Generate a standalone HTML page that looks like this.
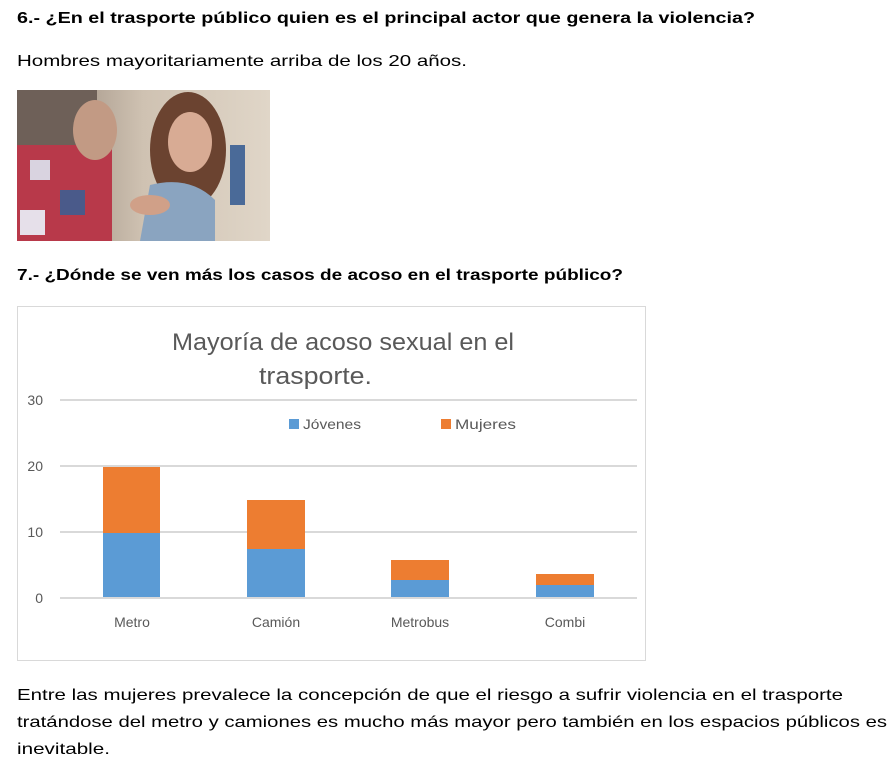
<!DOCTYPE html>
<html><head><meta charset="utf-8"><style>
html,body{margin:0;padding:0;background:#fff;}
svg{display:block;}
text{font-family:"Liberation Sans",sans-serif;}
</style></head><body>
<svg width="895" height="768" viewBox="0 0 895 768" xmlns="http://www.w3.org/2000/svg">
<text x="17" y="23" font-size="16" font-weight="bold" fill="#000" textLength="738" lengthAdjust="spacingAndGlyphs">6.- ¿En el trasporte público quien es el principal actor  que genera la violencia?</text>
<text x="17" y="66" font-size="16" fill="#000" textLength="450" lengthAdjust="spacingAndGlyphs">Hombres mayoritariamente arriba de los 20 años.</text>
<!-- photo approximation -->
<defs>
<linearGradient id="bg" x1="0" x2="1"><stop offset="0" stop-color="#8a7a6e"/><stop offset="0.5" stop-color="#cfc2b2"/><stop offset="1" stop-color="#e0d6c8"/></linearGradient>
</defs>
<rect x="17" y="90" width="253" height="151" fill="url(#bg)"/>
<rect x="17" y="90" width="80" height="60" fill="#6e6058"/>
<rect x="17" y="145" width="95" height="96" fill="#b8394a"/>
<rect x="30" y="160" width="20" height="20" fill="#d9d3e0"/>
<rect x="60" y="190" width="25" height="25" fill="#4a5a8a"/>
<rect x="20" y="210" width="25" height="25" fill="#e6e0ea"/>
<ellipse cx="95" cy="130" rx="22" ry="30" fill="#c29a84"/>
<ellipse cx="188" cy="150" rx="38" ry="58" fill="#6b4330"/>
<ellipse cx="190" cy="142" rx="22" ry="30" fill="#d8ab94"/>
<path d="M140 241 L150 185 Q190 175 215 200 L215 241 Z" fill="#8aa4c0"/>
<ellipse cx="150" cy="205" rx="20" ry="10" fill="#d0a088"/>
<rect x="230" y="145" width="15" height="60" fill="#4a6a98"/>
<text x="17" y="280" font-size="16" font-weight="bold" fill="#000" textLength="606" lengthAdjust="spacingAndGlyphs">7.- ¿Dónde se ven más los casos de acoso en el trasporte público?</text>
<!-- chart -->
<rect x="17.5" y="306.5" width="628" height="354" fill="#fff" stroke="#d9d9d9"/>
<text x="172" y="350" font-size="24" fill="#595959" textLength="342" lengthAdjust="spacingAndGlyphs">Mayoría de acoso sexual en el</text>
<text x="259" y="384" font-size="24" fill="#595959" textLength="113" lengthAdjust="spacingAndGlyphs">trasporte.</text>
<g stroke="#d9d9d9" stroke-width="2">
<line x1="60" y1="400" x2="637" y2="400"/>
<line x1="60" y1="466" x2="637" y2="466"/>
<line x1="60" y1="532" x2="637" y2="532"/>
<line x1="60" y1="598" x2="637" y2="598"/>
</g>
<g font-size="14" fill="#595959" text-anchor="end">
<text x="43" y="405">30</text><text x="43" y="471">20</text><text x="43" y="537">10</text><text x="43" y="603">0</text>
</g>
<g>
<rect x="103" y="467" width="57" height="66" fill="#ed7d31"/><rect x="103" y="533" width="57" height="64" fill="#5b9bd5"/>
<rect x="247" y="500" width="58" height="49" fill="#ed7d31"/><rect x="247" y="549" width="58" height="48" fill="#5b9bd5"/>
<rect x="391" y="560" width="58" height="20" fill="#ed7d31"/><rect x="391" y="580" width="58" height="17" fill="#5b9bd5"/>
<rect x="536" y="574" width="58" height="11" fill="#ed7d31"/><rect x="536" y="585" width="58" height="12" fill="#5b9bd5"/>
</g>
<rect x="289" y="419" width="10" height="10" fill="#5b9bd5"/>
<text x="303" y="429" font-size="14" fill="#595959" textLength="58" lengthAdjust="spacingAndGlyphs">Jóvenes</text>
<rect x="441" y="419" width="10" height="10" fill="#ed7d31"/>
<text x="455" y="429" font-size="14" fill="#595959" textLength="61" lengthAdjust="spacingAndGlyphs">Mujeres</text>
<g font-size="14" fill="#595959" text-anchor="middle">
<text x="132" y="627">Metro</text><text x="276" y="627">Camión</text><text x="420" y="627">Metrobus</text><text x="565" y="627">Combi</text>
</g>
<text x="17" y="700" font-size="16" fill="#000" textLength="826" lengthAdjust="spacingAndGlyphs">Entre las  mujeres prevalece la concepción de que el riesgo a sufrir violencia en el trasporte</text>
<text x="17" y="727" font-size="16" fill="#000" textLength="870" lengthAdjust="spacingAndGlyphs">tratándose del metro y camiones es mucho más mayor pero también en los espacios públicos es</text>
<text x="17" y="754" font-size="16" fill="#000" textLength="93" lengthAdjust="spacingAndGlyphs">inevitable.</text>
</svg>
</body></html>
